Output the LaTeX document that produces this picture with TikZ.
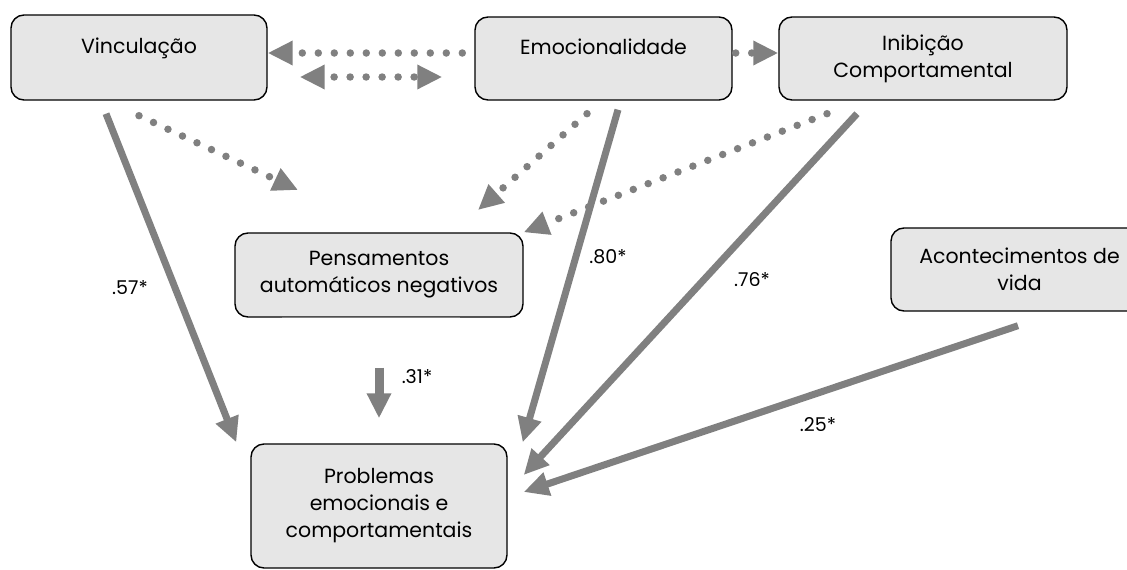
\documentclass[tikz,border=0pt]{standalone}
\usepackage{fontspec}
\setmainfont{Poppins}
\usetikzlibrary{arrows.meta,calc}
\definecolor{boxfill}{HTML}{E6E6E6}
\definecolor{arrgray}{HTML}{808080}
\begin{document}
\begin{tikzpicture}[x=1pt,y=-1pt,
  box/.style={draw=black, line width=1.4pt, fill=boxfill, rounded corners=13pt,
    align=center, inner sep=0pt, font=\fontsize{20.5}{27}\selectfont},
  tipbig/.tip={Triangle[length=25pt,width=23pt]},
  solidarr/.style={draw=arrgray, line width=7pt, -tipbig},
  dotline/.style={draw=arrgray, line width=7.5pt, line cap=round, dash pattern=on 0pt off 16pt},
  lbl/.style={font=\fontsize{19}{23}\selectfont, inner sep=0pt}
]
\useasboundingbox (0,0) rectangle (1127,570);

% boxes
\node[box, minimum width=256pt, minimum height=85pt] (vinc) at (139,57.5) {Vinculação\\[-12pt]\strut};
\node[box, minimum width=257pt, minimum height=83pt] (emoc) at (603.5,58.5) {Emocionalidade\\[-12pt]\strut};
\node[box, minimum width=288pt, minimum height=83pt] (inib) at (923,58.5) {Inibição\\Comportamental};
\node[box, minimum width=288pt, minimum height=84pt] (pens) at (379,275) {Pensamentos\\automáticos negativos};
\node[box, minimum width=257pt, minimum height=83pt] (acont) at (1019.5,269.5) {Acontecimentos de\\vida};
\node[box, minimum width=256pt, minimum height=124pt] (prob) at (379,506) {Problemas\\emocionais e\\comportamentais};
\draw[arrgray, line width=1.4pt] ($(pens.south)+(-97,0)$) -- ($(pens.south)+(81,0)$);

% dotted connectors
\draw[dotline, -tipbig] ($(emoc.west)+(-12,-5.5)$) -- ($(vinc.east)+(0,-4.5)$);
\draw[dotline, dash phase=5pt, tipbig-tipbig] ($(vinc.east)+(32,19.5)$) -- ($(emoc.west)+(-32,18.5)$);
\draw[dotline, -tipbig] ($(emoc.east)+(3,-5.5)$) -- ($(inib.west)+(0,-5.5)$);
\coordinate (vp) at (298,190);
\coordinate (ep) at (478,210);
\draw[dotline, -tipbig] ($(vinc.south)+(0,15)$) -- (vp);
\draw[dotline, -tipbig] ($(emoc.south)+(-16.5,13)$) -- (ep);
\draw[dotline, -tipbig] ($(inib.south)+(-96,13)$) -- (pens.north east);

% solid connectors
\draw[solidarr] ($(vinc.south)+(-33,13)$) -- ($(prob.north west)+(-14,-1)$);
\draw[solidarr] ($(emoc.south)+(14.5,9)$) -- ($(prob.north east)+(15,-1)$);
\draw[solidarr] ($(inib.south)+(-66,13)$) -- ($(prob.east)+(16,-31)$);
\draw[solidarr] ($(acont.south)+(-1.5,14)$) -- ($(prob.east)+(16,-14)$);
\draw[solidarr, line width=9pt] ($(pens.south)+(0,50)$) -- ($(prob.north)+(0,-25)$);

% labels
\node[lbl] (l57) at (130,288) {.57*};
\node[lbl] (l80) at (608,257) {.80*};
\node[lbl] (l76) at (752,280) {.76*};
\node[lbl] (l25) at (818,425) {.25*};
\node[lbl] (l31) at (417,377) {.31*};
\end{tikzpicture}
\end{document}
